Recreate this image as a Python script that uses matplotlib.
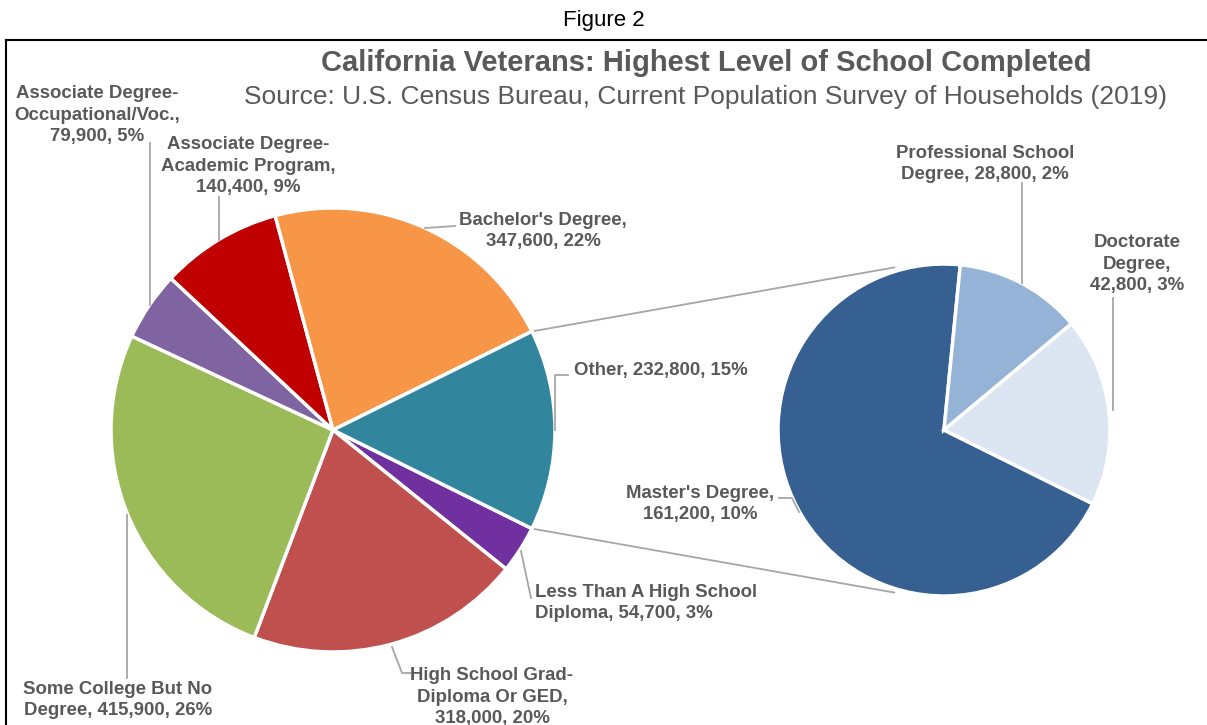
import matplotlib.pyplot as plt
import numpy as np

# main pie, clockwise from the lower edge of the "Other" slice
main_names = ["Less Than A High School\nDiploma", "High School Grad-\nDiploma Or GED",
              "Some College But No\nDegree", "Associate Degree-\nOccupational/Voc.",
              "Associate Degree-\nAcademic Program", "Bachelor's Degree", "Other"]
main_seps = [", ", ",\n", ", ", ",\n", ",\n", ",\n", ", "]
main_colors = ["#7030A0", "#C0504D", "#9BBB59", "#8064A2", "#C00000", "#F79646", "#31859C"]

# breakdown of "Other"
sub_names = ["Master's Degree", "Professional School\nDegree", "Doctorate\nDegree"]
sub_values = [161_200, 28_800, 42_800]
sub_seps = [",\n", ", ", ",\n"]
sub_colors = ["#376092", "#95B3D7", "#DCE6F2"]

main_values = [54_700, 318_000, 415_900, 79_900, 140_400, 347_600, sum(sub_values)]

W, H = 1207, 725
TEXT = "#595959"
LEADER = "#A6A6A6"


def py(y):
    # pixel row (top-down) -> data y
    return H - y


fig = plt.figure(figsize=(W / 100, H / 100), dpi=100)
ax = fig.add_axes([0, 0, 1, 1])

total = sum(main_values)
other_share = main_values[-1] / total
start = -other_share * 360 / 2

c1, r1 = (333, py(430)), 222
c2, r2 = (944, py(430)), 166
wp = dict(edgecolor="white", linewidth=2.5)

ax.pie(main_values, colors=main_colors, startangle=start, counterclock=False,
       center=c1, radius=r1, wedgeprops=wp, frame=True)
ax.pie(sub_values, colors=sub_colors, startangle=start, counterclock=False,
       center=c2, radius=r2, wedgeprops=wp, frame=True)

# connector lines from the "Other" slice to the secondary pie
for sign in (1, -1):
    a1 = np.radians(sign * other_share * 180)
    a2 = np.radians(sign * 107)
    ax.plot([c1[0] + r1 * np.cos(a1), c2[0] + (r2 + 4) * np.cos(a2)],
            [c1[1] + r1 * np.sin(a1), c2[1] + (r2 + 4) * np.sin(a2)],
            color=LEADER, lw=1.3, zorder=0)


def label(name, sep, value, pos, leader, ha="center"):
    pct = round(value / total * 100)
    ax.text(pos[0], py(pos[1]), f"{name}{sep}{value:,}, {pct}%", ha=ha, va="center",
            fontsize=13.4, fontweight="bold", color=TEXT, linespacing=1.37,
            family="Liberation Sans")
    xs, ys = zip(*leader)
    ax.plot(xs, [py(v) for v in ys], color=LEADER, lw=1.3)


main_pos = [(535, 603), (492, 697), (118, 700), (97, 115), (248, 166), (543, 231), (574, 370)]
main_ha = ["left", "center", "center", "center", "center", "center", "left"]
main_leaders = [
    [(521, 551), (531, 598)],
    [(392, 647), (402, 673), (412, 673)],
    [(127, 515), (127, 678)],
    [(150, 143), (150, 305)],
    [(219, 197), (219, 240)],
    [(425, 228), (455, 226)],
    [(555, 430), (555, 375), (568, 375)],
]
sub_pos = [(700, 504), (985, 164), (1137, 264)]
sub_leaders = [
    [(779, 498), (792, 498), (799, 512)],
    [(1022, 183), (1022, 283)],
    [(1113, 298), (1113, 410)],
]

for i in range(len(main_values)):
    label(main_names[i], main_seps[i], main_values[i], main_pos[i], main_leaders[i], main_ha[i])
for i in range(len(sub_values)):
    label(sub_names[i], sub_seps[i], sub_values[i], sub_pos[i], sub_leaders[i])

# titles
ax.text(604, py(20), "Figure 2", ha="center", va="center", fontsize=16,
        color="black", family="Liberation Sans")
ax.text(706, py(63), "California Veterans: Highest Level of School Completed",
        ha="center", va="center", fontsize=21, fontweight="bold", color=TEXT,
        family="Liberation Sans")
ax.text(706, py(97), "Source: U.S. Census Bureau, Current Population Survey of Households (2019)",
        ha="center", va="center", fontsize=19, color=TEXT, family="Liberation Sans")

# chart border
ax.plot([6, W], [py(40), py(40)], color="black", lw=1.5)
ax.plot([6, 6], [py(40), 0], color="black", lw=1.5)

ax.set_xlim(0, W)
ax.set_ylim(0, H)
ax.set_aspect("equal")
ax.axis("off")

fig.savefig("out.png", dpi=100)
